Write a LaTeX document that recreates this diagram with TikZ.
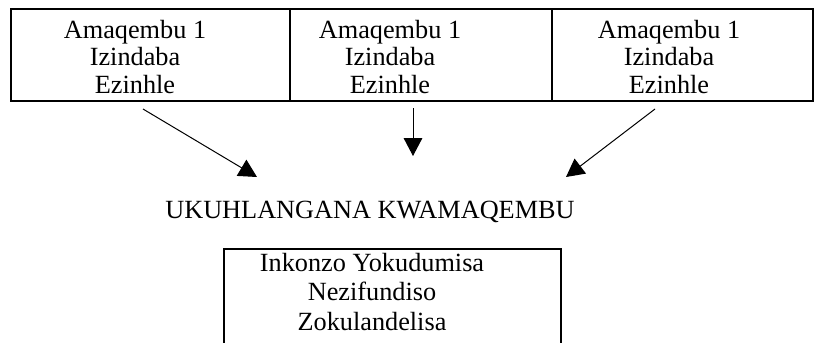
\documentclass[tikz,border=0pt]{standalone}
\usepackage{fontspec}
\setmainfont{Liberation Serif}
\usetikzlibrary{arrows.meta}
\tikzset{
  txt/.style={inner sep=0.75pt, align=center, font=\fontsize{19.7}{20.8}\selectfont},
  boxtxt/.style={txt, font=\fontsize{19.7}{22.2}\selectfont},
  cell/.style={line width=1.5pt},
  arr/.style={line width=0.75pt, -{Triangle[length=13.5pt,width=14pt]}}
}
\begin{document}
\begin{tikzpicture}[x=0.75pt,y=0.75pt,yscale=-1,xscale=1]
        \useasboundingbox (0,0) rectangle (815,343);

        %Shape: Rectangle [id:cells]
        \draw [cell] (11,9) rectangle (290,101);
        \draw [cell] (290,9) rectangle (552,101);
        \draw [cell] (552,9) rectangle (813,101);
        %Shape: Rectangle [id:bottom box]
        \draw [cell] (224,352) -- (224,249) -- (561,249) -- (561,352);

        % Text Node
        \node [txt] (grpA) at (135,57) {Amaqembu 1\\Izindaba\\Ezinhle};
        \node [txt] (grpB) at (390,57) {Amaqembu 1\\Izindaba\\Ezinhle};
        \node [txt] (grpC) at (669,57) {Amaqembu 1\\Izindaba\\Ezinhle};
        \node [txt] (meet) at (370,212) {UKUHLANGANA KWAMAQEMBU};
        \node [boxtxt] (serv) at (372,292) {Inkonzo Yokudumisa\\Nezifundiso\\Zokulandelisa};

        %Straight Lines [id:arrows]
        \coordinate (fromA) at (143,109);
        \coordinate (toA) at (257,177);
        \coordinate (fromB) at (413,108);
        \coordinate (toB) at (413,156);
        \coordinate (fromC) at (655,109);
        \coordinate (toC) at (566,177);
        \draw [arr] (fromA) -- (toA);
        \draw [arr] (fromB) -- (toB);
        \draw [arr] (fromC) -- (toC);
    \end{tikzpicture}
\end{document}
